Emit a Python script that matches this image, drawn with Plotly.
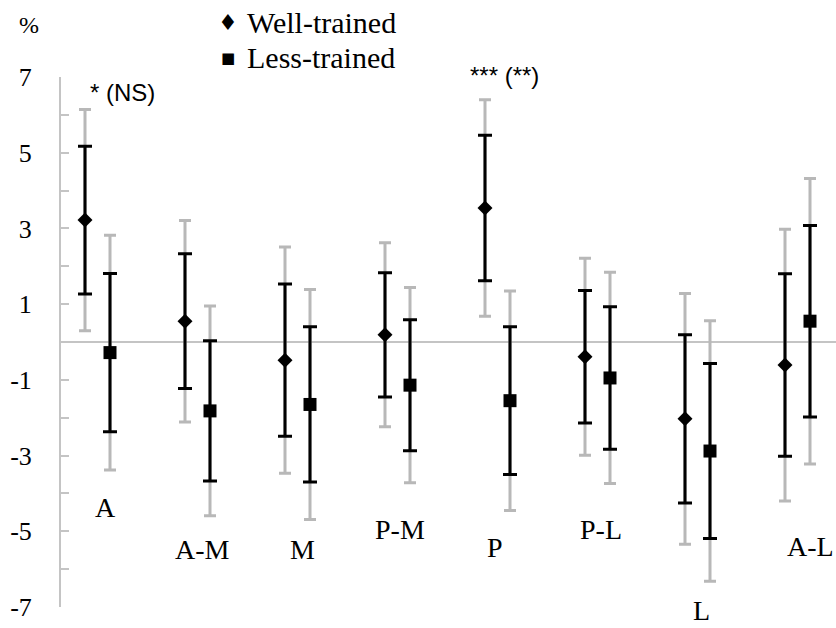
import plotly.graph_objects as go

# Mean change (%) per region, with two uncertainty half-widths:
# inner (black bars) and outer (grey bars).
categories = ["A", "A-M", "M", "P-M", "P", "P-L", "L", "A-L"]

well_mean = [3.22, 0.55, -0.48, 0.19, 3.54, -0.39, -2.03, -0.61]
well_inner = [1.95, 1.78, 2.01, 1.64, 1.92, 1.75, 2.22, 2.41]
well_outer = [2.92, 2.66, 2.99, 2.43, 2.86, 2.60, 3.31, 3.59]

less_mean = [-0.28, -1.82, -1.65, -1.14, -1.55, -0.95, -2.88, 0.55]
less_inner = [2.09, 1.85, 2.05, 1.73, 1.95, 1.88, 2.31, 2.53]
less_outer = [3.10, 2.77, 3.04, 2.58, 2.90, 2.79, 3.44, 3.77]

significance = ["* (NS)", "", "", "", "*** (**)", "", "", ""]

y_ticks = [-7, -5, -3, -1, 1, 3, 5, 7]

SERIF = "Liberation Serif"
SANS = "Liberation Sans"
GREY = "#b8b8b8"
AXIS_GREY = "#c4c4c4"
Y_MIN, Y_MAX = -7, 7

idx = list(range(len(categories)))
offset = 0.125
x_well = [i - offset for i in idx]
x_less = [i + offset for i in idx]


def to_paper_y(v):
    # value on the y scale -> fraction of the plot height (lets text sit outside the range)
    return (v - Y_MIN) / (Y_MAX - Y_MIN)


fig = go.Figure()


def add_series(xs, mean, inner, outer, symbol, size, name):
    # outer interval in grey, drawn first so the black one sits on top
    fig.add_trace(go.Scatter(
        x=xs, y=mean, mode="markers", showlegend=False, hoverinfo="skip",
        marker=dict(size=1, color="rgba(0,0,0,0)"),
        error_y=dict(type="data", array=outer, symmetric=True,
                     color=GREY, thickness=3, width=6),
    ))
    fig.add_trace(go.Scatter(
        x=xs, y=mean, mode="markers", name=name, showlegend=False,
        marker=dict(symbol=symbol, size=size, color="black"),
        error_y=dict(type="data", array=inner, symmetric=True,
                     color="black", thickness=3, width=7),
    ))


add_series(x_well, well_mean, well_inner, well_outer, "diamond", 11.5, "Well-trained")
add_series(x_less, less_mean, less_inner, less_outer, "square", 13, "Less-trained")

# category names, staggered under each pair
label_y = [-4.36, -5.49, -5.49, -4.94, -5.44, -4.94, -7.08, -5.41]
label_dx = [0.075, 0.045, 0.05, 0.025, -0.025, 0.035, 0.035, 0.125]
for i, cat in enumerate(categories):
    fig.add_annotation(x=i + label_dx[i], y=to_paper_y(label_y[i]), yref="paper",
                       text=cat, showarrow=False,
                       xanchor="center", yanchor="middle",
                       font=dict(family=SERIF, size=28, color="black"))

# significance markers above the pairs
sig_pos = {0: (0.245, 6.58), 4: (0.065, 7.03)}
for i, txt in enumerate(significance):
    if txt:
        dx, yy = sig_pos[i]
        fig.add_annotation(x=i + dx, y=to_paper_y(yy), yref="paper",
                           text=txt, showarrow=False,
                           xanchor="center", yanchor="middle",
                           font=dict(family=SANS, size=24, color="black"))

fig.add_annotation(xref="paper", yref="paper", x=-0.041, y=1.098, text="%",
                   showarrow=False, xanchor="center", yanchor="middle",
                   font=dict(family=SERIF, size=24, color="black"))

# key: symbol + series name
key_rows = [("\u2666", "Well-trained", 1.102, 22), ("\u25A0", "Less-trained", 1.036, 15)]
for sym, name, ky, ssize in key_rows:
    fig.add_annotation(xref="paper", yref="paper", x=0.216, y=ky, text=sym,
                       showarrow=False, xanchor="center", yanchor="middle",
                       font=dict(family="DejaVu Sans", size=ssize, color="black"))
    fig.add_annotation(xref="paper", yref="paper", x=0.237, y=ky, text=name,
                       showarrow=False, xanchor="left", yanchor="middle",
                       font=dict(family=SERIF, size=30, color="black"))

fig.update_layout(
    width=836, height=628,
    margin=dict(l=61, r=0, t=77, b=21, pad=0),
    paper_bgcolor="white", plot_bgcolor="white",
    showlegend=False,
    xaxis=dict(range=[-0.365, 7.385], showgrid=False, zeroline=False,
               showline=False, showticklabels=False, ticks=""),
    yaxis=dict(range=[Y_MIN, Y_MAX], showgrid=False,
               zeroline=True, zerolinecolor=AXIS_GREY, zerolinewidth=2,
               showline=True, linecolor=AXIS_GREY, linewidth=2,
               ticks="inside", ticklen=8, tickwidth=2, tickcolor=AXIS_GREY,
               tickvals=y_ticks, ticktext=[str(v) for v in y_ticks],
               minor=dict(dtick=1, ticks="inside", ticklen=8, tickwidth=2,
                          tickcolor=AXIS_GREY, showgrid=False),
               ticklabelstandoff=22,
               tickfont=dict(family=SERIF, size=26, color="black")),
)

fig.write_html("out.html")
